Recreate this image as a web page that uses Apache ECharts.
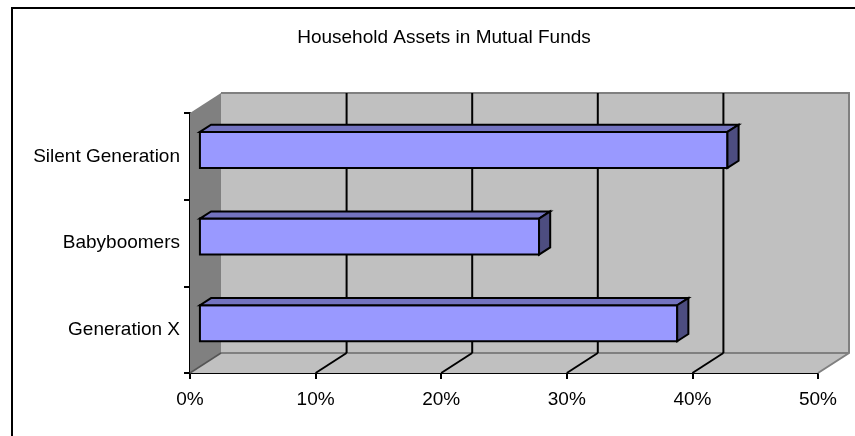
<!DOCTYPE html>
<html>
<head>
<meta charset="utf-8">
<script src="https://cdn.jsdelivr.net/npm/echarts@6/dist/echarts.min.js"></script>
<style>
  html, body { margin: 0; padding: 0; background: #fff; }
  #chart { width: 855px; height: 436px; }
</style>
</head>
<body>
<div id="chart"></div>
<script>
// Categories (bottom to top) and their share of household assets, in percent
const categories = ['Generation X', 'Babyboomers', 'Silent Generation'];
const shares = [38, 27, 42];
const tickValues = [0, 10, 20, 30, 40, 50];

// Depth of the pseudo-3D box (pixels to the right / upwards)
const DX = 31, DY = -20;
// Front and back of each bar as fractions of that depth
const F1 = 0.32, F2 = 0.68;
const BAR_RATIO = 0.415;

const FONT = '"Liberation Sans", Arial, sans-serif';

const chart = echarts.init(document.getElementById('chart'));

function renderWalls(params, api) {
  const cs = params.coordSys;
  const x0 = cs.x, y0 = cs.y, x1 = cs.x + cs.width, y1 = cs.y + cs.height;
  return {
    type: 'group',
    children: [
      { type: 'rect', shape: { x: x0 + DX, y: y0 + DY, width: cs.width, height: cs.height },
        style: { fill: '#c0c0c0', stroke: null } },
      { type: 'polygon', shape: { points: [[x0, y1], [x0 + DX, y1 + DY], [x1 + DX, y1 + DY], [x1, y1]] },
        style: { fill: '#c0c0c0', stroke: null } },
      { type: 'polygon', shape: { points: [[x0, y0], [x0 + DX, y0 + DY], [x0 + DX, y1 + DY], [x0, y1]] },
        style: { fill: '#808080', stroke: null } },
      // edges of the box
      { type: 'polyline', shape: { points: [[x0 + DX, y0 + DY], [x1 + DX, y0 + DY], [x1 + DX, y1 + DY], [x1, y1]] },
        style: { fill: null, stroke: '#808080', lineWidth: 2 } },
      { type: 'line', shape: { x1: x0 + DX, y1: y1 + DY, x2: x1 + DX, y2: y1 + DY },
        style: { stroke: '#808080', lineWidth: 2 } },
      { type: 'line', shape: { x1: x0, y1: y1, x2: x0 + DX, y2: y1 + DY },
        style: { stroke: '#555555', lineWidth: 1.5 } }
    ]
  };
}

function renderGridLine(params, api) {
  const v = api.value(0);
  const cs = params.coordSys;
  const y0 = cs.y, y1 = cs.y + cs.height;
  const x = api.coord([v, 0])[0];
  if (v <= tickValues[0] || v >= tickValues[tickValues.length - 1]) return null;
  return {
    type: 'group',
    children: [
      { type: 'line', shape: { x1: x + DX, y1: y0 + DY, x2: x + DX, y2: y1 + DY },
        style: { stroke: '#000', lineWidth: 2 } },
      { type: 'line', shape: { x1: x, y1: y1, x2: x + DX, y2: y1 + DY },
        style: { stroke: '#000', lineWidth: 2 } }
    ]
  };
}

function renderBar(params, api) {
  const cat = api.value(1);
  const start = api.coord([0, cat]);
  const end = api.coord([api.value(0), cat]);
  const band = api.size([0, 1])[1];
  const h = band * BAR_RATIO;
  const l = start[0] + DX * F1;
  const r = end[0] + DX * F1;
  const cy = start[1] + DY * F1;
  const top = cy - h / 2, bot = cy + h / 2;
  const ddx = DX * (F2 - F1), ddy = DY * (F2 - F1);
  const line = { stroke: '#000', lineWidth: 2, lineJoin: 'miter' };
  return {
    type: 'group',
    children: [
      { type: 'rect', shape: { x: l, y: top, width: r - l, height: h },
        style: Object.assign({ fill: '#9999ff' }, line) },
      { type: 'polygon', shape: { points: [[l, top], [l + ddx, top + ddy], [r + ddx, top + ddy], [r, top]] },
        style: Object.assign({ fill: '#7373bf' }, line) },
      { type: 'polygon', shape: { points: [[r, top], [r + ddx, top + ddy], [r + ddx, bot + ddy], [r, bot]] },
        style: Object.assign({ fill: '#4d4d80' }, line) }
    ]
  };
}

const option = {
  animation: false,
  backgroundColor: '#fff',
  title: {
    text: 'Household Assets in Mutual Funds',
    left: 439,
    textAlign: 'center',
    top: 23,
    textStyle: { fontFamily: FONT, fontSize: 19, fontWeight: 'normal', color: '#000' }
  },
  grid: { left: 190, right: 37, top: 113, bottom: 63 },
  xAxis: {
    type: 'value',
    min: 0, max: 50, interval: 10,
    axisLine: { show: true, lineStyle: { color: '#000', width: 2 } },
    axisTick: { show: true, length: 6, lineStyle: { color: '#000', width: 2 } },
    splitLine: { show: false },
    axisLabel: { formatter: '{value}%', margin: 17, color: '#000', fontFamily: FONT, fontSize: 19 }
  },
  yAxis: {
    type: 'category',
    data: categories,
    axisLine: { show: true, lineStyle: { color: '#000', width: 2 } },
    axisTick: { show: true, length: 6, lineStyle: { color: '#000', width: 2 } },
    splitLine: { show: false },
    axisLabel: { margin: 10, padding: [6, 0, 0, 0], color: '#000', fontFamily: FONT, fontSize: 19 }
  },
  graphic: [
    { type: 'rect', shape: { x: 12, y: 8, width: 900, height: 500 },
      style: { fill: null, stroke: '#000', lineWidth: 2 }, z: 100 }
  ],
  series: [
    { type: 'custom', renderItem: renderWalls, data: [[0, 0]], z: 1, silent: true },
    { type: 'custom', renderItem: renderGridLine, data: tickValues.map(v => [v, 0]), z: 2, silent: true },
    { type: 'custom', renderItem: renderBar, data: shares.map((v, i) => [v, i]),
      encode: { x: 0, y: 1 }, z: 3 }
  ]
};

chart.setOption(option);
</script>
</body>
</html>
